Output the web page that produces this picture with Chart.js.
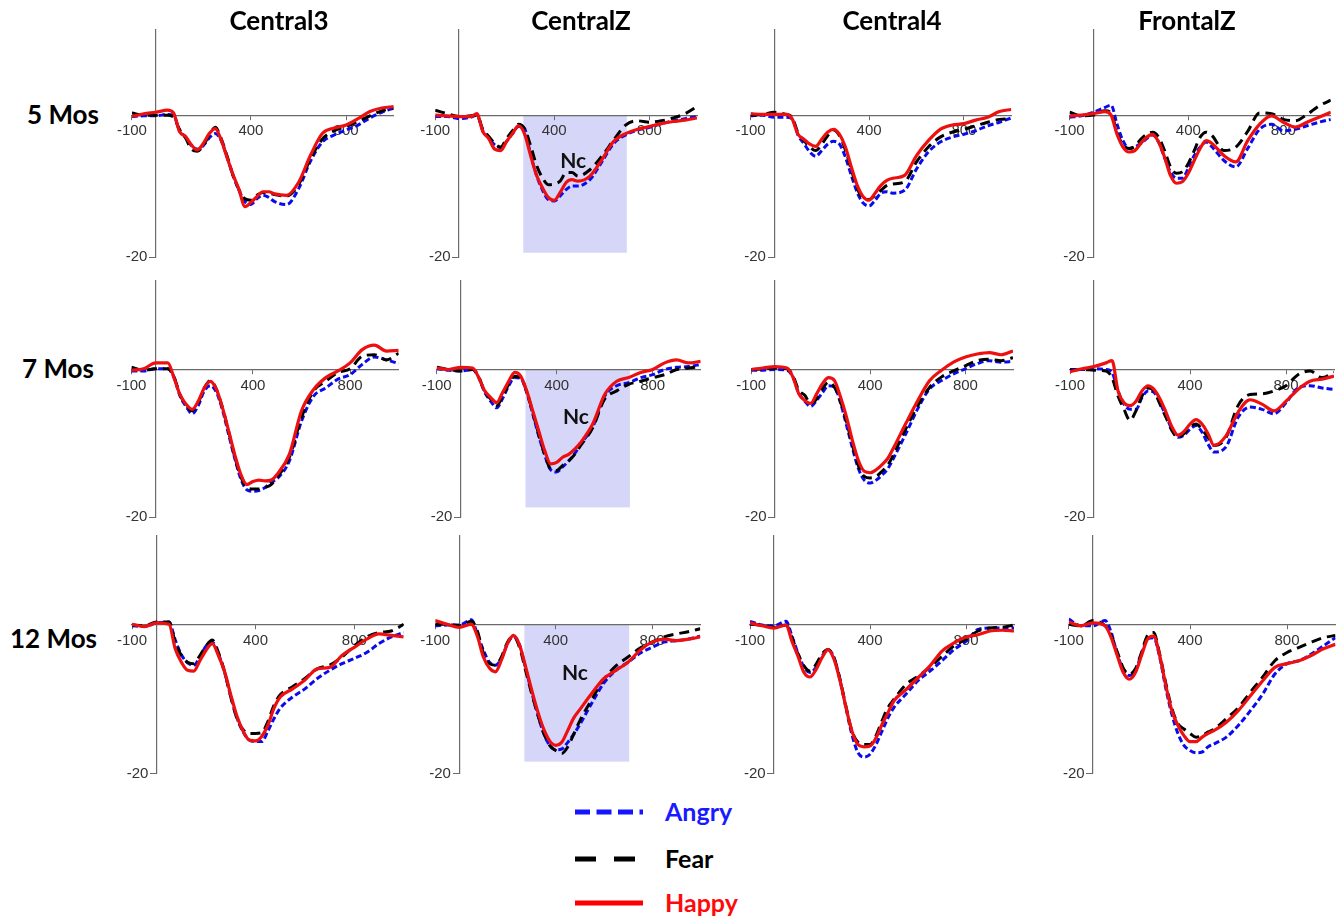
<!DOCTYPE html>
<html>
<head>
<meta charset="utf-8">
<script src="https://cdn.jsdelivr.net/npm/chart.js@4.4.1/dist/chart.umd.min.js"></script>
<style>
  body { margin: 0; background: #fff; }
  #page { position: relative; width: 1342px; height: 919px; overflow: hidden; font-family: Lato, "Open Sans", sans-serif; }
  #page canvas { position: absolute; }
  .lbl { position: absolute; font-weight: 700; white-space: nowrap; line-height: 1; color: #000; }
  .title { font-size: 26px; transform: translateX(-50%); }
  .age { font-size: 26px; }
  .leg { font-size: 25px; }
  svg { position: absolute; left: 0; top: 0; }
</style>
</head>
<body>
<div id="page"></div>
<script>
// time points (ms) shared by every curve
const times = [-100, -50, 0, 50, 75, 100, 125, 150, 175, 200, 225, 250, 275, 300, 325, 350,
  375, 400, 425, 450, 475, 500, 550, 600, 650, 700, 750, 800, 850, 900, 950, 1000];

const regions = ["Central3", "CentralZ", "Central4", "FrontalZ"];
const ages = ["5 Mos", "7 Mos", "12 Mos"];
const conditions = ["Angry", "Fear", "Happy"];
const xTicks = [-100, 400, 800];
const yTicks = [-20];
const ncWindow = [270, 705];
const ncDepth = [-19.4, -18.7, -18.4];

// 5 months
const c3_5_angry = [-0.2, -0.1, -0.1, 0.1, 0.0, -2.2, -3.1, -4.3, -4.8, -4.3, -3.2, -2.6, -3.6, -5.9, -8.5, -10.6, -12.2, -12.6, -11.8, -11.3, -11.6, -12.2, -12.6, -10.4, -6.5, -3.8, -2.8, -2.1, -1.4, -0.4, 0.4, 1.0];
const c3_5_fear = [0.3, 0.0, 0.0, 0.0, -0.3, -2.0, -3.2, -4.8, -5.1, -4.3, -2.8, -1.7, -3.3, -5.8, -8.5, -10.5, -11.8, -12.0, -11.3, -10.9, -11.0, -11.2, -11.4, -9.8, -6.2, -3.4, -2.2, -1.6, -0.9, -0.1, 0.6, 1.0];
const c3_5_happy = [-0.2, 0.2, 0.4, 0.7, 0.3, -2.3, -3.0, -4.2, -4.9, -4.0, -2.6, -1.9, -3.5, -6.0, -8.4, -10.5, -12.9, -12.3, -11.5, -10.8, -10.8, -11.1, -11.3, -9.5, -5.7, -2.6, -1.8, -1.4, -0.5, 0.5, 1.0, 1.2];

const cz_5_angry = [-0.2, -0.2, -0.5, -0.3, 0.0, -2.2, -3.2, -4.2, -4.6, -3.7, -2.6, -1.6, -1.9, -5.4, -8.4, -10.5, -11.9, -12.1, -11.4, -10.5, -10.0, -10.0, -9.1, -6.6, -4.0, -2.8, -2.1, -1.7, -1.2, -0.8, -0.5, -0.2];
const cz_5_fear = [0.7, 0.2, -0.2, -0.1, 0.0, -2.0, -3.0, -4.0, -4.5, -3.3, -2.2, -1.3, -1.9, -4.2, -7.0, -8.8, -9.8, -9.7, -9.3, -8.1, -8.1, -8.6, -7.7, -5.8, -3.5, -1.4, -0.8, -1.0, -0.8, -0.4, 0.2, 1.2];
const cz_5_happy = [0.0, -0.1, -0.2, -0.2, 0.2, -2.3, -3.3, -4.8, -5.0, -3.7, -2.6, -1.5, -2.6, -5.6, -8.4, -10.2, -11.6, -12.0, -10.9, -9.5, -9.1, -9.3, -8.6, -6.3, -3.7, -2.6, -2.0, -1.6, -1.2, -0.9, -0.7, -0.4];

const c4_5_angry = [-0.1, 0.0, -0.3, -0.3, -0.5, -2.8, -4.0, -5.2, -5.8, -5.0, -4.1, -3.7, -4.1, -5.9, -8.5, -10.9, -12.4, -12.8, -12.0, -11.0, -10.8, -11.0, -10.6, -7.6, -5.2, -3.8, -3.1, -2.7, -2.2, -1.5, -1.0, -0.4];
const c4_5_fear = [0.0, 0.1, 0.4, 0.1, -0.3, -2.5, -3.6, -4.5, -5.0, -4.1, -2.9, -2.1, -2.9, -4.9, -7.7, -10.3, -11.8, -11.9, -11.3, -10.6, -9.9, -9.7, -9.4, -6.6, -4.5, -3.1, -2.4, -2.0, -1.5, -1.0, -0.6, -0.5];
const c4_5_happy = [0.2, 0.1, 0.1, 0.1, -0.5, -2.7, -3.4, -4.1, -4.4, -3.4, -2.4, -2.0, -2.7, -4.5, -7.3, -9.9, -11.5, -12.0, -11.0, -9.9, -9.2, -8.9, -8.5, -5.7, -3.6, -2.0, -1.4, -1.2, -0.7, -0.3, 0.5, 0.8];

const fz_5_angry = [-0.3, -0.1, 0.4, 1.1, 1.4, -1.3, -3.6, -4.7, -4.5, -4.0, -3.3, -2.8, -3.8, -6.0, -8.0, -8.9, -8.9, -7.5, -5.7, -4.5, -3.8, -4.5, -6.4, -7.3, -4.7, -2.0, -1.3, -2.2, -2.0, -1.5, -1.0, -0.6];
const fz_5_fear = [0.4, -0.1, 0.0, 0.6, 0.3, -2.5, -4.2, -4.7, -4.4, -3.4, -2.7, -2.4, -3.1, -5.0, -7.3, -8.2, -8.0, -6.8, -5.0, -3.1, -2.4, -2.9, -5.0, -4.5, -2.3, 0.3, 0.2, -0.6, -0.8, 0.1, 1.3, 2.1];
const fz_5_happy = [-0.1, 0.0, 0.2, 0.5, 0.0, -2.7, -4.5, -5.2, -5.0, -4.0, -3.1, -2.7, -3.8, -5.9, -8.5, -9.6, -9.4, -8.2, -6.4, -4.7, -3.6, -4.0, -5.7, -6.6, -3.6, -1.3, -0.1, -1.0, -1.7, -1.0, -0.3, 0.4];

// 7 months
const c3_7_angry = [-0.2, -0.2, 0.1, 0.1, -1.0, -3.6, -5.0, -6.0, -4.9, -2.9, -2.2, -3.1, -5.5, -8.8, -12.0, -14.8, -16.3, -16.5, -16.4, -16.0, -15.3, -14.8, -12.4, -7.0, -3.6, -2.5, -1.3, -0.7, 0.7, 1.7, 1.3, 0.8];
const c3_7_fear = [0.3, -0.1, 0.1, 0.1, -1.0, -3.4, -4.8, -5.6, -4.5, -2.5, -1.5, -2.7, -5.2, -8.4, -11.8, -14.5, -16.0, -16.2, -16.2, -16.0, -15.6, -14.6, -11.9, -6.5, -2.9, -1.6, -0.4, 0.1, 1.8, 2.0, 1.3, 2.2];
const c3_7_happy = [-0.1, 0.1, 0.9, 0.9, -1.1, -3.4, -4.7, -5.4, -4.3, -2.5, -1.6, -2.7, -5.2, -8.3, -11.5, -14.2, -15.6, -15.2, -15.0, -15.1, -15.0, -14.2, -11.5, -5.6, -2.7, -1.1, -0.2, 0.9, 2.7, 3.3, 2.5, 2.6];

const cz_7_angry = [0.1, -0.1, -0.2, 0.0, -1.1, -3.1, -4.3, -5.2, -3.9, -2.2, -1.1, -1.2, -3.1, -6.0, -9.0, -11.6, -13.6, -13.9, -13.2, -12.4, -11.4, -10.1, -7.8, -3.6, -2.2, -1.8, -1.1, -0.7, 0.0, 0.3, 0.4, 0.7];
const cz_7_fear = [0.3, 0.0, -0.2, 0.0, -1.0, -3.0, -4.0, -4.9, -3.6, -2.0, -0.9, -1.1, -3.0, -5.8, -8.8, -11.5, -13.5, -13.7, -13.0, -12.4, -11.5, -10.3, -7.9, -4.0, -2.9, -2.0, -1.6, -1.1, -0.7, 0.0, 0.2, 0.4];
const cz_7_happy = [0.2, 0.0, 0.3, 0.2, -1.1, -2.9, -3.8, -4.5, -3.1, -1.6, -0.4, -0.9, -2.9, -5.6, -8.3, -11.0, -12.8, -12.6, -11.9, -11.5, -10.8, -9.9, -7.4, -3.4, -1.6, -1.1, -0.4, 0.0, 0.9, 1.3, 0.9, 1.1];

const c4_7_angry = [-0.1, -0.1, 0.0, -0.1, -1.0, -3.2, -4.3, -5.0, -4.2, -3.1, -2.2, -2.4, -4.5, -7.5, -10.6, -13.4, -15.0, -15.4, -15.0, -14.3, -13.4, -11.9, -8.7, -5.3, -2.6, -1.5, -0.6, 0.1, 0.8, 1.2, 1.0, 1.1];
const c4_7_fear = [0.0, 0.1, 0.2, 0.1, -0.8, -2.8, -3.5, -4.6, -4.0, -2.6, -1.7, -2.4, -4.3, -7.0, -10.2, -13.0, -14.5, -14.7, -14.5, -13.8, -12.9, -11.4, -8.0, -4.9, -2.4, -1.0, -0.2, 0.5, 1.2, 1.4, 1.2, 1.6];
const c4_7_happy = [0.0, 0.2, 0.4, 0.2, -1.0, -3.3, -4.2, -4.6, -3.3, -1.9, -1.1, -1.5, -3.7, -6.4, -9.6, -12.3, -13.8, -14.0, -13.6, -12.9, -12.0, -10.5, -7.3, -4.2, -1.5, -0.1, 1.0, 1.7, 2.1, 2.3, 2.0, 2.5];

const fz_7_angry = [0.0, 0.0, 0.1, 0.0, -0.4, -2.9, -4.7, -5.4, -5.4, -3.8, -2.9, -3.1, -4.5, -6.3, -8.1, -9.2, -8.9, -8.1, -7.6, -8.5, -10.1, -11.2, -10.5, -6.5, -5.1, -5.4, -6.0, -4.5, -2.5, -2.2, -2.5, -2.7];
const fz_7_fear = [-0.1, 0.0, -0.1, -0.2, -1.1, -3.6, -5.4, -6.9, -5.6, -3.6, -2.5, -2.9, -4.7, -6.5, -8.3, -9.2, -8.7, -7.8, -7.4, -8.1, -9.2, -10.3, -9.2, -4.9, -3.4, -3.3, -2.9, -2.2, -0.7, -0.2, -1.1, -0.4];
const fz_7_happy = [-0.3, 0.1, 0.4, 0.9, 1.2, -2.9, -4.5, -4.9, -4.3, -2.9, -2.2, -2.7, -4.0, -5.8, -7.8, -8.9, -8.4, -7.4, -6.8, -7.4, -8.7, -10.3, -9.0, -5.8, -4.1, -4.7, -5.6, -4.3, -2.7, -1.6, -1.3, -0.9];

// 12 months
const c3_12_angry = [-0.1, -0.2, 0.3, 0.4, -2.0, -4.0, -5.1, -5.4, -4.3, -2.8, -2.3, -3.9, -6.4, -9.6, -12.5, -14.4, -15.5, -15.7, -15.7, -14.3, -12.6, -11.2, -9.7, -8.6, -7.2, -6.1, -5.2, -4.5, -3.7, -2.5, -1.6, -1.0];
const c3_12_fear = [0.0, -0.1, 0.4, 0.4, -2.3, -4.1, -5.0, -5.2, -4.1, -2.8, -2.0, -3.7, -6.3, -9.7, -12.6, -14.1, -14.6, -14.6, -14.5, -13.0, -10.8, -9.4, -8.3, -7.2, -5.9, -5.4, -4.3, -2.8, -1.6, -1.0, -0.8, 0.1];
const c3_12_happy = [0.1, -0.2, 0.3, 0.1, -3.2, -5.0, -6.1, -6.2, -4.8, -3.4, -2.5, -4.1, -6.3, -9.4, -12.3, -14.3, -15.5, -15.6, -15.0, -13.5, -11.2, -9.7, -8.6, -7.4, -5.9, -5.7, -4.1, -3.0, -1.9, -1.2, -1.4, -1.6];

const cz_12_angry = [-0.1, 0.0, 0.0, 0.7, -1.2, -3.4, -5.0, -5.4, -4.5, -2.5, -1.5, -2.7, -5.8, -9.0, -12.0, -14.6, -16.2, -16.8, -16.7, -15.8, -14.7, -13.4, -10.5, -7.8, -6.1, -5.0, -3.8, -3.0, -2.3, -2.1, -1.9, -1.5];
const cz_12_fear = [0.1, 0.1, -0.1, 0.5, -0.8, -3.8, -5.2, -5.4, -4.3, -2.3, -1.5, -3.0, -6.1, -9.2, -12.0, -14.5, -16.2, -16.9, -17.3, -16.4, -14.7, -12.9, -10.0, -7.3, -5.5, -4.3, -3.1, -2.3, -1.6, -1.2, -0.9, -0.5];
const cz_12_happy = [0.6, 0.1, -0.3, 0.1, -1.5, -4.3, -5.8, -6.3, -4.7, -2.5, -1.4, -2.7, -5.6, -8.7, -11.6, -14.0, -15.6, -16.2, -15.8, -14.2, -12.5, -11.4, -9.2, -7.2, -6.1, -5.0, -3.4, -2.3, -1.9, -2.1, -1.9, -1.6];

const c4_12_angry = [0.5, 0.0, -0.1, 0.5, -1.5, -3.8, -5.7, -6.4, -5.7, -4.2, -3.3, -4.4, -7.4, -11.2, -14.8, -17.2, -17.8, -17.4, -16.1, -14.3, -12.5, -11.1, -9.3, -7.5, -6.2, -4.8, -3.3, -2.2, -0.6, -0.4, -0.4, -0.4];
const c4_12_fear = [0.1, 0.0, -0.3, 0.0, -1.7, -3.9, -5.5, -6.2, -5.3, -3.9, -3.3, -4.4, -7.3, -11.0, -14.3, -15.8, -16.1, -16.1, -14.9, -12.9, -11.1, -10.0, -8.0, -6.9, -5.7, -4.2, -2.8, -1.9, -0.8, -0.4, -0.3, 0.0];
const c4_12_happy = [0.3, -0.1, -0.4, 0.0, -2.2, -4.2, -6.4, -7.0, -6.0, -4.4, -3.3, -4.6, -7.5, -11.1, -14.3, -16.1, -16.4, -16.3, -15.2, -13.4, -11.8, -10.2, -8.7, -7.1, -5.5, -3.5, -2.4, -1.6, -1.3, -0.8, -0.7, -0.8];

const fz_12_angry = [0.8, -0.1, -0.1, 0.6, -1.0, -3.9, -6.0, -6.8, -6.1, -3.9, -1.8, -1.7, -4.3, -8.5, -12.0, -14.6, -16.2, -16.9, -17.2, -17.1, -16.4, -16.0, -15.1, -13.5, -11.5, -9.3, -6.6, -5.2, -4.8, -3.9, -2.8, -1.7];
const fz_12_fear = [0.1, -0.1, 0.6, -0.1, -1.4, -3.6, -5.8, -6.6, -5.9, -3.7, -1.4, -1.0, -3.9, -7.8, -11.2, -13.3, -14.0, -14.6, -15.1, -14.9, -14.4, -14.0, -12.6, -11.1, -9.0, -7.0, -4.8, -3.7, -3.0, -2.3, -1.7, -1.4];
const fz_12_happy = [0.4, -0.1, 0.3, -0.1, -1.7, -4.1, -6.4, -7.3, -6.4, -4.1, -1.9, -1.5, -4.1, -8.1, -11.5, -13.5, -14.9, -15.7, -15.7, -15.1, -14.6, -14.2, -13.1, -11.5, -9.5, -7.5, -5.7, -5.2, -4.8, -4.1, -3.2, -2.6];

// [age][region] -> [angry, fear, happy]
const panels = [
  [[c3_5_angry, c3_5_fear, c3_5_happy], [cz_5_angry, cz_5_fear, cz_5_happy], [c4_5_angry, c4_5_fear, c4_5_happy], [fz_5_angry, fz_5_fear, fz_5_happy]],
  [[c3_7_angry, c3_7_fear, c3_7_happy], [cz_7_angry, cz_7_fear, cz_7_happy], [c4_7_angry, c4_7_fear, c4_7_happy], [fz_7_angry, fz_7_fear, fz_7_happy]],
  [[c3_12_angry, c3_12_fear, c3_12_happy], [cz_12_angry, cz_12_fear, cz_12_happy], [c4_12_angry, c4_12_fear, c4_12_happy], [fz_12_angry, fz_12_fear, fz_12_happy]]
];

// page geometry (pixels)
const axisX = [[155.7, 459, 774.3, 1093.3], [155.7, 460.7, 775, 1094], [156.7, 459.3, 774, 1093]];
const pxPerMs = [[0.238, 0.238, 0.237, 0.2375], [0.243, 0.24, 0.238, 0.24], [0.247, 0.241, 0.24, 0.2425]];
const rowZero = [113.6, 368.5, 624];
const rowBottom = [257, 517, 773.5];
const pad = { left: 30, right: 20, top: 10, bottom: 20 };

const lineStyles = {
  Angry: { color: "#0a0aee", width: 3, dash: [6, 3] },
  Fear: { color: "#000000", width: 3, dash: [10, 6] },
  Happy: { color: "#ee1010", width: 3.2, dash: [] }
};

const page = document.getElementById("page");

const ncPlugin = {
  id: "nc",
  beforeDraw(chart, args, opts) {
    if (!opts.show) return;
    const { ctx, scales: { x, y } } = chart;
    const x0 = x.getPixelForValue(ncWindow[0]);
    const x1 = x.getPixelForValue(ncWindow[1]);
    const y0 = y.getPixelForValue(0);
    const y1 = y.getPixelForValue(opts.depth);
    ctx.save();
    ctx.fillStyle = "rgb(214,214,248)";
    ctx.fillRect(x0, y0, x1 - x0, y1 - y0);
    ctx.restore();
  },
  afterDatasetsDraw(chart, args, opts) {
    if (!opts.show) return;
    const { ctx, scales: { x, y } } = chart;
    ctx.save();
    ctx.font = "bold 21px Lato";
    ctx.fillStyle = "#111";
    ctx.textAlign = "center";
    ctx.textBaseline = "middle";
    ctx.fillText("Nc", x.getPixelForValue(480), y.getPixelForValue(-6.5));
    ctx.restore();
  }
};

function axisOptions(ticksList, min, max, pos, tickLen, labelFn) {
  return {
    type: "linear",
    min: min,
    max: max,
    position: pos,
    afterBuildTicks: (scale) => {
      scale.ticks = ticksList.map((v) => ({ value: v }));
    },
    grid: { drawOnChartArea: false, drawTicks: true, tickLength: tickLen, color: "#6a6a6a", lineWidth: 1 },
    border: { display: true, color: "#6a6a6a", width: 1.2 },
    ticks: {
      autoSkip: false, maxRotation: 0, padding: 3, color: "#333",
      font: { family: "Liberation Sans", size: 15 },
      callback: labelFn
    }
  };
}

function makePanel(r, c) {
  const k = pxPerMs[r][c];
  const scaleY = (rowBottom[r] - rowZero[r]) / 20;
  const areaLeft = axisX[r][c] - 100 * k;
  const areaW = 1100 * k;
  const areaTop = rowZero[r] - 12 * scaleY;
  const areaH = rowBottom[r] - areaTop;

  const cv = document.createElement("canvas");
  const left = Math.round(areaLeft - pad.left);
  const top = Math.round(areaTop - pad.top);
  cv.width = Math.round(areaW + pad.left + pad.right);
  cv.height = Math.round(areaH + pad.top + pad.bottom);
  cv.style.left = left + "px";
  cv.style.top = top + "px";
  page.appendChild(cv);

  const padding = {
    left: areaLeft - left,
    top: areaTop - top,
    right: cv.width - (areaLeft - left) - areaW,
    bottom: cv.height - (areaTop - top) - areaH
  };

  // happy drawn on top, angry at the bottom
  const datasets = conditions.map((name, i) => {
    const st = lineStyles[name];
    return {
      label: name,
      data: times.map((t, j) => ({ x: t, y: panels[r][c][i][j] })),
      borderColor: st.color,
      borderWidth: st.width,
      borderDash: st.dash,
      pointRadius: 0,
      fill: false,
      cubicInterpolationMode: "monotone",
      order: 2 - i
    };
  });

  new Chart(cv, {
    type: "line",
    data: { datasets: datasets },
    options: {
      responsive: false,
      animation: false,
      events: [],
      layout: { padding: padding },
      plugins: {
        legend: { display: false },
        tooltip: { enabled: false },
        nc: { show: c === 1, depth: ncDepth[r] }
      },
      scales: {
        x: axisOptions(xTicks, -100, 1000, { y: 0 }, 4, (v) => String(v)),
        // y labels sit right-aligned on the axis line, so pad them clear of the tick
        y: axisOptions(yTicks, -20, 12, { x: 0 }, 6, (v) => v + "  ")
      }
    },
    plugins: [ncPlugin]
  });
}

for (let r = 0; r < 3; r++) {
  for (let c = 0; c < 4; c++) makePanel(r, c);
}

// column titles and row labels
const titleX = [279, 581, 892, 1187];
regions.forEach((name, i) => {
  const d = document.createElement("div");
  d.className = "lbl title";
  d.textContent = name;
  d.style.left = titleX[i] + "px";
  d.style.top = "7px";
  page.appendChild(d);
});

const ageLeft = [27, 22, 10];
const ageTop = [101, 355, 625];
ages.forEach((name, i) => {
  const d = document.createElement("div");
  d.className = "lbl age";
  d.textContent = name;
  d.style.left = ageLeft[i] + "px";
  d.style.top = ageTop[i] + "px";
  page.appendChild(d);
});

// legend
const legendY = [812, 859, 903];
const legendTextColor = { Angry: "#1a1aff", Fear: "#000", Happy: "#ff0a0a" };
const legendLineColor = { Angry: "#1414ff", Fear: "#000", Happy: "#ff0000" };
const legendDash = { Angry: "15 6.5", Fear: "21 18", Happy: "" };
const legendEnd = { Angry: 643, Fear: 636, Happy: 643 };
const svgNS = "http://www.w3.org/2000/svg";
const svg = document.createElementNS(svgNS, "svg");
svg.setAttribute("width", "1342");
svg.setAttribute("height", "919");
conditions.forEach((name, i) => {
  const ln = document.createElementNS(svgNS, "line");
  ln.setAttribute("x1", 575);
  ln.setAttribute("x2", legendEnd[name]);
  ln.setAttribute("y1", legendY[i]);
  ln.setAttribute("y2", legendY[i]);
  ln.setAttribute("stroke", legendLineColor[name]);
  ln.setAttribute("stroke-width", 5);
  if (legendDash[name]) ln.setAttribute("stroke-dasharray", legendDash[name]);
  svg.appendChild(ln);

  const d = document.createElement("div");
  d.className = "lbl leg";
  d.textContent = name;
  d.style.color = legendTextColor[name];
  d.style.left = "665px";
  d.style.top = (legendY[i] - 13) + "px";
  page.appendChild(d);
});
page.appendChild(svg);
</script>
</body>
</html>
